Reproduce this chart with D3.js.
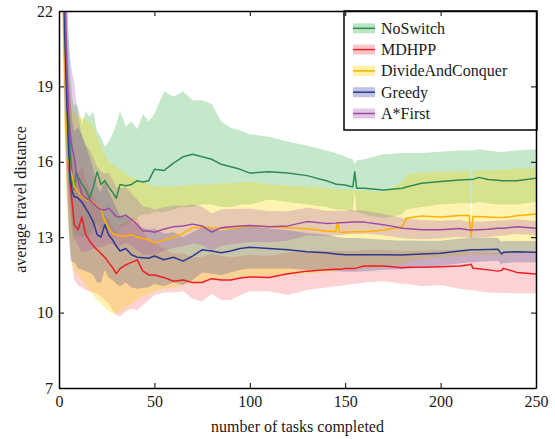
<!DOCTYPE html>
<html><head><meta charset="utf-8">
<script src="https://cdn.jsdelivr.net/npm/d3@7/dist/d3.min.js"></script>
<style>
html,body{margin:0;padding:0;background:#fff;}
svg{display:block;}
text{font-family:"Liberation Serif","Times New Roman",serif;fill:#1a1a1a;}
</style></head>
<body>
<svg id="chart" width="555" height="439"></svg>
<script>
// ---------- DATA ----------
const tasks = [1,2,3,4,5,6,7,8,9,10,12,14,16,18,20,22,24,26,28,30,32,35,38,41,44,47,50,55,60,65,70,75,80,85,90,95,100,110,120,130,140,145,146,147,150,154,155,156,160,170,180,182,190,200,210,215,216,217,220,225,230,232,233,240,250];

const seriesNames = ["NoSwitch","MDHPP","DivideAndConquer","Greedy","A*First"];
const xTicks = [0,50,100,150,200,250];
const yTicks = [7,10,13,16,19,22];

const noSwitchMean = [32,26,22,19.5,17.5,16.3,15.2,14.9,15.6,15.4,
15.1,14.9,14.55,15.0,15.6,15.1,15.25,15.0,14.8,14.55,
15.1,15.05,15.1,15.25,15.2,15.25,15.7,
15.65,15.95,16.2,16.3,16.2,16.1,15.9,15.8,15.7,15.55,
15.6,15.55,15.45,15.25,
15.12,15.1,15.1,15.08,15.0,15.6,14.95,14.95,
14.88,14.95,15.0,15.15,15.22,15.28,
15.3,15.3,15.3,15.38,15.3,15.27,15.25,15.25,15.25,15.35];
const noSwitchHi = [36,30,26,23,21,19.5,18.5,18.2,18.3,18.2,
17.5,18.0,17.8,18.0,17.2,17.0,16.6,16.8,17.1,17.5,
18.0,17.4,17.6,17.3,17.9,17.6,17.9,
18.8,18.6,18.8,18.45,18.45,18.3,17.6,17.35,17.25,17.1,
17.0,16.8,16.65,16.45,
16.35,16.3,16.3,16.2,16.1,15.9,16.05,16.1,
16.3,16.35,16.35,16.35,16.4,16.45,
16.45,16.45,16.45,16.5,16.45,16.4,16.4,16.4,16.45,16.5];
const noSwitchLo = [28,22,18.5,16.5,15,14,13.0,12.8,13.0,13.1,
13.0,13.1,13.0,13.3,13.6,13.3,13.4,13.3,13.2,13.1,
13.4,13.5,13.6,13.8,13.9,13.9,14.0,
14.0,14.1,14.2,14.2,14.3,14.3,14.2,14.2,14.3,14.3,
14.5,14.4,14.3,14.2,
14.1,14.1,14.1,14.1,14.0,14.9,14.0,13.9,
13.75,13.9,14.1,14.2,14.3,14.35,
14.35,14.35,14.35,14.4,14.35,14.3,14.3,14.3,14.3,14.4];

const mdhppMean = [31,25,21,18,16.2,15.0,14.3,13.5,13.4,13.3,
13.8,13.1,12.85,12.65,12.5,12.35,12.2,12.0,11.8,11.55,
11.75,11.9,12.0,12.1,11.65,11.5,11.5,
11.4,11.25,11.3,11.2,11.2,11.35,11.3,11.3,11.38,11.42,
11.4,11.55,11.65,11.7,
11.72,11.72,11.72,11.75,11.75,11.75,11.78,11.85,
11.85,11.78,11.8,11.8,11.82,11.85,
11.9,11.92,11.76,11.74,11.7,11.65,11.68,11.76,11.6,11.54];
const mdhppLo = [27,21,17.5,15,13.5,12.5,11.8,11.3,11.2,11.1,
11.0,10.9,10.85,10.8,10.75,10.65,10.5,10.35,10.1,9.9,
9.85,10.05,10.15,10.1,10.3,10.5,10.7,
10.8,10.8,10.85,10.55,10.45,10.75,10.5,10.5,10.7,10.85,
10.85,10.7,10.9,11.0,
11.05,11.05,11.05,11.1,11.15,11.15,11.15,11.2,
11.25,11.15,11.15,11.05,11.1,10.95,
10.9,10.9,10.9,10.85,10.8,10.78,10.78,10.78,10.77,10.77];
const mdhppHi = [35,29,24.5,21,19,17.5,16.8,16,15.6,15.5,
15.8,15.3,14.9,14.6,14.3,14.1,13.9,13.7,13.5,13.2,
13.5,13.6,13.7,13.8,13.2,12.9,12.8,
12.55,12.35,12.35,12.2,12.2,12.35,12.25,12.2,12.25,12.3,
12.25,12.4,12.45,12.45,
12.45,12.45,12.45,12.45,12.45,12.45,12.45,12.5,
12.5,12.45,12.45,12.45,12.5,12.5,
12.55,12.55,12.45,12.45,12.42,12.4,12.4,12.45,12.38,12.37];

const dacMean = [30,24,20,17.5,16.0,15.7,15.4,15.0,14.9,14.8,
14.6,14.5,14.45,14.4,14.25,14.1,13.65,13.35,13.15,13.1,
13.05,13.05,13.1,13.0,12.95,12.9,12.78,
12.88,13.0,13.15,13.38,13.4,13.38,13.36,13.36,13.4,13.45,
13.42,13.38,13.34,13.25,
13.22,13.6,13.2,13.2,13.22,13.22,13.22,13.22,
13.28,13.42,13.75,13.84,13.8,13.86,
13.86,13.02,13.82,13.82,13.8,13.78,13.78,13.78,13.85,13.92];
const dacLo = [26,20,16.5,14.5,13.2,12.5,12.0,11.7,11.6,11.5,
11.3,11.1,10.9,10.7,10.5,10.35,10.2,10.05,9.95,9.95,
10.05,10.2,10.35,10.5,10.65,10.75,10.85,
10.95,11.0,11.1,11.2,11.25,11.3,11.3,11.35,11.4,11.4,
11.45,11.5,11.55,11.6,
11.65,11.65,11.65,11.7,11.7,11.7,11.7,11.75,
11.8,11.9,12.0,12.1,12.2,12.25,
12.25,12.7,12.25,12.3,12.3,12.3,12.3,12.3,12.35,12.35];
const dacHi = [34,28,24,21,19,18.5,18.2,18.0,17.9,17.8,
17.75,17.7,17.6,17.4,17.0,16.6,16.3,16.0,15.9,15.8,
15.7,15.5,15.4,15.3,15.2,15.1,15.0,
15.0,15.0,15.05,15.1,15.1,15.1,15.15,15.15,15.2,15.2,
15.1,15.05,15.0,14.95,
14.9,14.9,14.9,14.9,14.88,14.88,14.88,14.85,
14.8,15.2,15.5,15.55,15.6,15.62,
15.65,13.3,15.65,15.65,15.65,15.68,15.68,15.68,15.72,15.75];

const greedyMean = [31,25,21,18.5,16.5,15.3,14.8,14.6,14.6,14.55,
14.4,14.15,13.9,13.6,13.1,13.0,13.5,13.1,12.9,12.65,
12.45,12.55,12.3,12.2,12.18,12.16,12.25,
12.1,12.2,12.05,12.25,12.5,12.45,12.38,12.45,12.55,12.6,
12.55,12.5,12.42,12.38,
12.33,12.32,12.32,12.3,12.3,12.3,12.3,12.3,
12.3,12.29,12.3,12.33,12.36,12.45,
12.49,12.5,12.5,12.5,12.51,12.52,12.33,12.4,12.42,12.4];
const greedyLo = [28,22,18,15.5,13.5,12.1,12.0,12.0,11.9,11.75,
11.7,11.65,11.6,11.5,11.2,11.2,11.7,11.4,11.3,11.15,
11.05,11.2,11.0,10.95,10.98,11.01,11.15,
11.05,11.2,11.1,11.3,11.6,11.55,11.5,11.6,11.7,11.75,
11.75,11.75,11.7,11.68,
11.65,11.65,11.65,11.63,11.63,11.63,11.63,11.65,
11.7,11.72,11.73,11.8,11.86,11.95,
12.0,12.0,12.0,12.02,12.04,12.06,11.9,11.97,12.0,12.0];
const greedyHi = [34,28,24,21.5,19.5,18.5,17.6,17.2,17.3,17.35,
17.1,16.65,16.2,15.7,15.0,14.8,15.3,14.8,14.5,14.15,
13.85,13.9,13.6,13.45,13.38,13.31,13.35,
13.15,13.2,13.0,13.2,13.4,13.35,13.26,13.32,13.4,13.45,
13.35,13.28,13.17,13.1,
13.03,13.0,13.0,12.97,12.97,12.97,12.97,12.95,
12.9,12.86,12.87,12.86,12.86,12.95,
12.97,12.98,12.98,12.98,12.98,12.98,12.8,12.85,12.85,12.85];

const aStarMean = [33,27,23,20,18,17,16.5,16.2,15.6,15.27,
14.7,14.55,14.48,14.35,14.2,14.1,14.08,14.15,14.0,13.82,
13.8,13.88,13.7,13.5,13.25,13.25,13.2,
13.32,13.42,13.45,13.52,13.45,13.2,13.38,13.42,13.45,13.47,
13.42,13.45,13.62,13.55,
13.56,13.57,13.57,13.58,13.6,13.6,13.6,13.6,
13.5,13.36,13.35,13.3,13.3,13.35,
13.29,13.29,13.29,13.3,13.32,13.36,13.36,13.36,13.42,13.36];
const aStarLo = [30,24,20,17,15,14,13.5,13.2,12.8,12.67,
12.4,12.45,12.48,12.55,12.6,12.6,12.63,12.75,12.7,12.62,
12.65,12.78,12.65,12.5,12.28,12.31,12.3,
12.45,12.58,12.65,12.74,12.69,12.46,12.66,12.72,12.77,12.81,
12.8,12.87,13.07,13.05,
13.08,13.09,13.09,13.1,13.13,13.13,13.13,13.15,
13.08,12.96,12.95,12.92,12.95,13.02,
12.97,12.97,12.97,12.99,13.01,13.06,13.06,13.06,13.13,13.08];
const aStarHi = [36,30,26,23,21,20,19.5,19.2,18.4,17.87,
17.0,16.65,16.48,16.15,15.8,15.6,15.53,15.55,15.3,15.02,
14.95,14.98,14.75,14.5,14.22,14.19,14.1,
14.19,14.26,14.25,14.3,14.21,13.94,14.1,14.12,14.13,14.13,
14.04,14.03,14.17,14.05,
14.04,14.05,14.05,14.06,14.07,14.07,14.07,14.05,
13.92,13.76,13.75,13.68,13.65,13.68,
13.61,13.61,13.61,13.61,13.63,13.66,13.66,13.66,13.71,13.64];

// ---------- STYLE ----------
const lineColors = ["#2e8b57","#ee1c25","#ffb000","#2b3990","#9d4aa8"];
const bandColors = ["#3cb44b","#ee1c25","#ffd700","#283c96","#a046aa"];
const bandAlpha  = [0.3,0.2,0.3,0.25,0.25];

const series = [
  {mean:noSwitchMean, lo:noSwitchLo, hi:noSwitchHi},
  {mean:mdhppMean, lo:mdhppLo, hi:mdhppHi},
  {mean:dacMean, lo:dacLo, hi:dacHi},
  {mean:greedyMean, lo:greedyLo, hi:greedyHi},
  {mean:aStarMean, lo:aStarLo, hi:aStarHi}
].map((s,i)=>({name:seriesNames[i], rows:tasks.map((t,j)=>({t, m:s.mean[j], lo:s.lo[j], hi:s.hi[j]}))}));

// ---------- DRAW ----------
const svg = d3.select("#chart");
const L=59, R=536, T=11, B=388;
const x = d3.scaleLinear().domain([0,250]).range([L,R]);
const y = d3.scaleLinear().domain([7,22]).range([B,T]);

svg.append("defs").append("clipPath").attr("id","clip")
  .append("rect").attr("x",L).attr("y",T).attr("width",R-L).attr("height",B-T);

const plot = svg.append("g").attr("clip-path","url(#clip)");
const area = d3.area().x(d=>x(d.t)).y0(d=>y(d.lo)).y1(d=>y(d.hi));
const line = d3.line().x(d=>x(d.t)).y(d=>y(d.m));

series.forEach((s,i)=>{
  plot.append("path").datum(s.rows).attr("d",area)
    .attr("fill",bandColors[i]).attr("fill-opacity",bandAlpha[i]).attr("stroke","none");
});
series.forEach((s,i)=>{
  plot.append("path").datum(s.rows).attr("d",line)
    .attr("fill","none").attr("stroke",lineColors[i]).attr("stroke-width",1.5)
    .attr("stroke-linejoin","round");
});

// legend
const lg = svg.append("g");
lg.append("rect").attr("x",344).attr("y",11).attr("width",193).attr("height",119)
  .attr("fill","#fff").attr("stroke","#000").attr("stroke-width",1.5);
series.forEach((s,i)=>{
  const cy = 28.3 + i*21.3;
  lg.append("rect").attr("x",353).attr("y",cy-5).attr("width",22).attr("height",10)
    .attr("fill",bandColors[i]).attr("fill-opacity",bandAlpha[i]+0.05);
  lg.append("line").attr("x1",353).attr("x2",375).attr("y1",cy).attr("y2",cy)
    .attr("stroke",lineColors[i]).attr("stroke-width",1.5);
  lg.append("text").attr("x",381).attr("y",cy+5.5).attr("font-size",16).text(s.name);
});

// axes
function styleAxis(g){
  g.selectAll(".domain").attr("stroke","#000").attr("stroke-width",1.5);
  g.selectAll(".tick line").attr("stroke","#000").attr("stroke-width",1);
  g.selectAll("text").attr("font-family","'Liberation Serif','Times New Roman',serif")
    .attr("font-size",16).attr("fill","#1a1a1a");
}
svg.append("g").attr("transform",`translate(0,${B})`)
  .call(d3.axisBottom(x).tickValues(xTicks).tickSizeInner(-5).tickSizeOuter(0).tickPadding(8))
  .call(styleAxis);
svg.append("g").attr("transform",`translate(0,${T})`)
  .call(d3.axisTop(x).tickValues(xTicks).tickSizeInner(-5).tickSizeOuter(0).tickFormat(""))
  .call(styleAxis);
svg.append("g").attr("transform",`translate(${L},0)`)
  .call(d3.axisLeft(y).tickValues(yTicks).tickSizeInner(-5).tickSizeOuter(0).tickPadding(6))
  .call(styleAxis);
svg.append("g").attr("transform",`translate(${R},0)`)
  .call(d3.axisRight(y).tickValues(yTicks).tickSizeInner(-5).tickSizeOuter(0).tickFormat(""))
  .call(styleAxis);

// axis titles
svg.append("text").attr("x",(L+R)/2).attr("y",432).attr("text-anchor","middle")
  .attr("font-size",16).text("number of tasks completed");
svg.append("text").attr("transform",`translate(26,${(T+B)/2}) rotate(-90)`)
  .attr("text-anchor","middle").attr("font-size",16).text("average travel distance");
</script>
</body></html>
